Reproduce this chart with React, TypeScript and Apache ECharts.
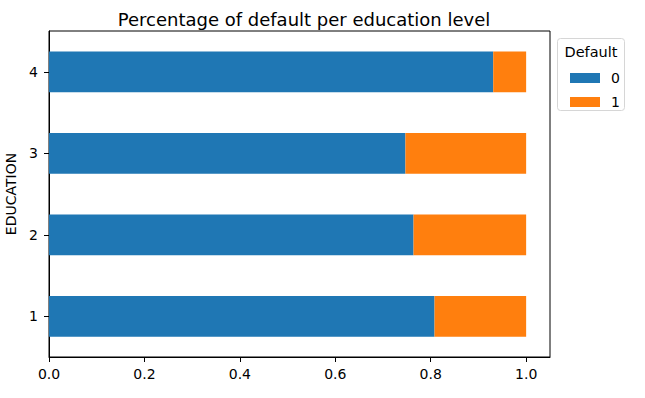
import React, { useEffect, useRef } from "react";
import * as echarts from "echarts";

const categories = ["1", "2", "3", "4"];
const seriesNames = ["0", "1"];
const noDefault = [0.808, 0.764, 0.747, 0.931];
const withDefault = [0.192, 0.236, 0.253, 0.069];
const xTicks = [0, 0.2, 0.4, 0.6, 0.8, 1.0];
const titleText = "Percentage of default per education level";
const legendTitle = "Default";
const yName = "EDUCATION";

export default function App() {
  const ref = useRef<HTMLDivElement>(null);
  useEffect(() => {
    if (!ref.current) return;
    const chart = echarts.init(ref.current, null, { renderer: "svg" });
    const font = "DejaVu Sans";
    chart.setOption({
      animation: false,
      backgroundColor: "#fff",
      textStyle: { fontFamily: font },
      title: {
        text: titleText,
        left: 299,
        top: 5,
        textAlign: "center",
        textStyle: { fontFamily: font, fontSize: 18, fontWeight: "normal", color: "#000" },
      },
      grid: {
        left: 49,
        right: 95,
        top: 31,
        bottom: 41,
        containLabel: false,
        outerBoundsMode: "none",
        show: true,
        borderColor: "#000",
        borderWidth: 1,
        backgroundColor: "transparent",
      },
      legend: {
        orient: "vertical",
        left: 565,
        top: 66,
        itemWidth: 30,
        itemHeight: 10,
        itemGap: 10,
        icon: "rect",
        data: seriesNames,
        textStyle: { fontFamily: font, fontSize: 14, color: "#000", padding: [0, 0, 0, 6] },
      },
      graphic: [
        {
          type: "rect",
          z: -1,
          shape: { x: 557.5, y: 38.5, width: 67, height: 72, r: 3 },
          style: { fill: "#fff", stroke: "#d6d6d6", lineWidth: 1 },
        },
        {
          type: "text",
          x: 591,
          y: 52,
          style: {
            text: legendTitle,
            font: "14.5px DejaVu Sans",
            fill: "#000",
            textAlign: "center",
            textVerticalAlign: "middle",
          },
        },
      ],
      xAxis: {
        type: "value",
        min: 0,
        max: 1.05,
        interval: 0.2,
        splitLine: { show: false },
        axisLine: { show: true, lineStyle: { color: "#000" } },
        axisTick: { show: true, length: 5, lineStyle: { color: "#000" }, customValues: xTicks },
        axisLabel: {
          customValues: xTicks,
          formatter: (v: number) => v.toFixed(1),
          color: "#000",
          fontSize: 14,
          fontFamily: font,
          margin: 10,
        },
      },
      yAxis: {
        type: "category",
        data: categories,
        name: yName,
        nameLocation: "middle",
        nameGap: 30,
        nameTextStyle: { fontFamily: font, fontSize: 14, color: "#000" },
        axisLine: { show: true, lineStyle: { color: "#000" } },
        axisTick: { show: true, alignWithLabel: true, length: 5, lineStyle: { color: "#000" } },
        axisLabel: { color: "#000", fontSize: 14, fontFamily: font, margin: 11 },
        splitLine: { show: false },
      },
      series: [
        {
          name: seriesNames[0],
          type: "bar",
          stack: "total",
          barWidth: "50%",
          data: noDefault,
          itemStyle: { color: "#1f77b4" },
        },
        {
          name: seriesNames[1],
          type: "bar",
          stack: "total",
          barWidth: "50%",
          data: withDefault,
          itemStyle: { color: "#ff7f0e" },
        },
      ],
    });
    return () => chart.dispose();
  }, []);
  return <div ref={ref} style={{ width: 645, height: 398, position: "absolute", left: 0, top: 0 }} />;
}
